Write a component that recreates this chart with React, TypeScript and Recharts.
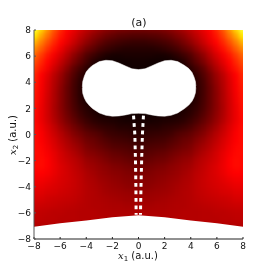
import { Area, ComposedChart, Line, Scatter, XAxis, YAxis } from 'recharts';

// grid positions of the heat map, right half only (the picture is mirrored about x1 = 0)
const x1Half = [0, 0.5, 1, 1.5, 2, 2.5, 3, 3.5, 4, 4.5, 5, 5.5, 6, 6.5, 7, 7.5, 8];
const x2Rows = [
  8, 7.5, 7, 6.5, 6, 5.5, 5, 4.5, 4, 3.5, 3, 2.5, 2, 1.5, 1, 0.5, 0, -0.5, -1, -1.5, -2, -2.5, -3, -3.5, -4, -4.5, -5,
  -5.5, -6, -6.5, -7, -7.5, -8,
];

// colormap position, one row per x2Rows entry
const heatRows = [
  [.155, .155, .16, .165, .175, .19, .21, .235, .265, .295, .33, .37, .42, .49, .58, .68, .8],
  [.105, .105, .11, .115, .13, .145, .17, .195, .23, .265, .305, .345, .395, .455, .53, .61, .71],
  [.065, .065, .07, .08, .09, .105, .13, .16, .195, .235, .28, .325, .37, .42, .48, .55, .63],
  [.04, .04, .04, .045, .055, .07, .09, .12, .15, .195, .24, .285, .335, .385, .435, .5, .565],
  [.025, .025, .025, .02, .02, .03, .05, .075, .105, .15, .195, .25, .3, .345, .395, .45, .51],
  [.015, .015, .01, .01, .01, .01, .02, .04, .08, .12, .165, .22, .27, .32, .37, .42, .475],
  [.01, .01, .01, .01, .01, .01, .01, .02, .05, .085, .125, .185, .24, .29, .345, .395, .445],
  [.01, .01, .01, .01, .01, .01, .01, .01, .03, .06, .105, .155, .21, .26, .315, .365, .42],
  [.01, .01, .01, .01, .01, .01, .01, .01, .02, .05, .09, .145, .2, .25, .305, .355, .41],
  [.01, .01, .01, .01, .01, .01, .01, .01, .02, .045, .085, .135, .19, .245, .3, .35, .4],
  [.01, .01, .01, .01, .01, .01, .01, .01, .02, .045, .085, .135, .185, .24, .295, .345, .395],
  [.01, .01, .01, .01, .01, .01, .01, .015, .025, .05, .09, .135, .185, .24, .29, .34, .39],
  [.01, .01, .01, .01, .01, .01, .015, .025, .04, .06, .095, .14, .185, .235, .29, .335, .385],
  [.01, .01, .01, .01, .015, .015, .02, .035, .05, .075, .11, .15, .195, .24, .29, .335, .38],
  [.02, .02, .02, .025, .03, .035, .04, .05, .07, .095, .13, .165, .205, .25, .295, .335, .375],
  [.035, .035, .04, .04, .05, .055, .065, .08, .095, .125, .155, .19, .225, .27, .31, .345, .38],
  [.05, .052, .06, .065, .07, .08, .1, .115, .13, .155, .18, .215, .25, .285, .32, .355, .38],
  [.07, .072, .08, .085, .09, .105, .12, .14, .15, .18, .205, .235, .265, .3, .33, .36, .38],
  [.09, .092, .1, .105, .11, .125, .14, .155, .17, .2, .225, .25, .28, .31, .34, .37, .38],
  [.11, .112, .12, .13, .135, .15, .165, .18, .19, .22, .245, .27, .295, .325, .35, .375, .38],
  [.13, .132, .14, .15, .155, .17, .185, .2, .21, .24, .26, .28, .3, .33, .36, .38, .375],
  [.15, .152, .16, .17, .175, .19, .2, .215, .225, .25, .27, .29, .31, .335, .36, .38, .375],
  [.17, .172, .175, .185, .19, .2, .21, .225, .24, .26, .275, .295, .31, .33, .35, .365, .36],
  [.18, .182, .185, .195, .2, .21, .22, .235, .245, .265, .28, .295, .305, .32, .335, .345, .345],
  [.19, .192, .195, .205, .21, .22, .23, .24, .25, .265, .28, .29, .3, .31, .32, .33, .33],
  [.205, .207, .21, .215, .22, .225, .235, .245, .25, .265, .275, .285, .29, .3, .305, .315, .315],
  [.22, .22, .22, .225, .23, .235, .24, .245, .25, .26, .27, .275, .28, .285, .29, .3, .3],
  [.23, .23, .23, .235, .235, .24, .245, .245, .25, .255, .26, .265, .27, .275, .28, .285, .285],
  [.24, .24, .24, .24, .24, .245, .245, .25, .25, .25, .255, .255, .26, .26, .265, .27, .27],
  [.245, .245, .245, .245, .245, .245, .25, .25, .25, .25, .255, .255, .255, .26, .26, .265, .265],
  [.25, .25, .25, .25, .25, .25, .25, .25, .25, .25, .25, .25, .25, .25, .25, .25, .25],
  [.25, .25, .25, .25, .25, .25, .25, .25, .25, .25, .25, .25, .25, .25, .25, .25, .25],
  [.25, .25, .25, .25, .25, .25, .25, .25, .25, .25, .25, .25, .25, .25, .25, .25, .25],
];

// white hole in the middle
const holeX = [-4.3, -4.27, -4.15, -4, -3.75, -3.5, -3, -2.5, -2, -1.5, -1, -0.5, 0, 0.5, 1, 1.5, 2, 2.5, 3, 3.5, 3.85, 4.1, 4.25, 4.36, 4.39];
const holeLow = [3.55, 3.15, 2.8, 2.5, 2.2, 1.97, 1.65, 1.47, 1.4, 1.42, 1.5, 1.6, 1.62, 1.6, 1.5, 1.42, 1.4, 1.47, 1.65, 1.97, 2.25, 2.55, 2.85, 3.2, 3.6];
const holeHigh = [3.65, 4.05, 4.45, 4.8, 5.1, 5.3, 5.58, 5.68, 5.65, 5.47, 5.25, 5.03, 4.97, 5.03, 5.25, 5.47, 5.65, 5.68, 5.58, 5.3, 5.05, 4.75, 4.4, 4.05, 3.7];

// white band along the bottom
const floorX = [-8, -6, -4, -2, 0, 2, 4, 6, 8];
const floorTop = [-7.06, -6.8, -6.58, -6.34, -6.19, -6.34, -6.58, -6.8, -7.06];

// the two dashed white lines
const dashX2 = [1.45, 0, -2, -4, -6.15];
const dashLeftX1 = [-0.38, -0.28, -0.23, -0.2, -0.18];
const dashRightX1 = [0.38, 0.3, 0.24, 0.19, 0.15];

const ticks = [-8, -6, -4, -2, 0, 2, 4, 6, 8];

const heatCells = x2Rows.flatMap((x2, r) =>
  x1Half.flatMap((x1, c) => {
    const value = heatRows[r][c];
    return x1 === 0 ? [{ x1, x2, value }] : [{ x1, x2, value }, { x1: -x1, x2, value }];
  })
);
const holeData = holeX.map((x1, i) => ({ x1, range: [holeLow[i], holeHigh[i]] }));
const floorData = floorX.map((x1, i) => ({ x1, range: [-8, floorTop[i]] }));
const dashLeft = dashX2.map((x2, i) => ({ x1: dashLeftX1[i], x2 }));
const dashRight = dashX2.map((x2, i) => ({ x1: dashRightX1[i], x2 }));

// matplotlib "hot"
const hot = (v: number) => {
  const clamp = (n: number) => Math.round(255 * Math.max(0, Math.min(1, n)));
  return `rgb(${clamp(0.04 + v / 0.376)},${clamp((v - 0.365) / 0.375)},${clamp((v - 0.746) / 0.254)})`;
};

// edge cells run past the frame so the blur does not fade at the border
const HeatCell = (props: any) => {
  const { x1, x2, value } = props.payload;
  const left = props.cx - 4 - (x1 === -8 ? 8 : 0);
  const top = props.cy - 4 - (x2 === 8 ? 8 : 0);
  const width = 8 + (Math.abs(x1) === 8 ? 8 : 0);
  const height = 8 + (Math.abs(x2) === 8 ? 8 : 0);
  return <rect x={left} y={top} width={width} height={height} fill={hot(value)} />;
};

const tickStyle = { fontSize: 9, fontFamily: 'DejaVu Sans', fill: '#111' };
const noLabel = () => '';
const minusLabel = (v: number) => String(v).replace('-', '\u2212');

export default function App() {
  return (
    <div style={{ position: 'absolute', left: 0, top: 0, width: 270, height: 270, background: '#fff', filter: 'blur(0.35px)' }}>
      <style>{`.recharts-scatter { filter: blur(2.2px); }`}</style>
      <ComposedChart width={270} height={270} margin={{ top: 30, right: 27, bottom: 0, left: 0 }}>
        <XAxis
          xAxisId={0}
          type="number"
          dataKey="x1"
          domain={[-8, 8]}
          ticks={ticks}
          allowDataOverflow
          height={31}
          tick={tickStyle}
          tickSize={-2}
          tickMargin={6}
          stroke="#222"
          tickFormatter={minusLabel}
        />
        <XAxis
          xAxisId="top"
          orientation="top"
          type="number"
          domain={[-8, 8]}
          ticks={ticks}
          allowDataOverflow
          height={0}
          tickSize={-2}
          stroke="#333"
          tickFormatter={noLabel}
        />
        <YAxis
          yAxisId={0}
          type="number"
          dataKey="x2"
          domain={[-8, 8]}
          ticks={ticks}
          allowDataOverflow
          width={34}
          tick={tickStyle}
          tickSize={-2}
          tickMargin={5}
          stroke="#555"
          tickFormatter={minusLabel}
        />
        <YAxis
          yAxisId="right"
          orientation="right"
          type="number"
          domain={[-8, 8]}
          ticks={ticks}
          allowDataOverflow
          width={0}
          tickSize={-2}
          stroke="#999"
          strokeWidth={1.5}
          tickFormatter={noLabel}
        />
        <Scatter data={heatCells} shape={HeatCell} isAnimationActive={false} zIndex={50} />
        <Area
          data={holeData}
          dataKey="range"
          type="linear"
          fill="#fff"
          fillOpacity={1}
          stroke="#fff"
          strokeWidth={0.5}
          isAnimationActive={false}
          dot={false}
          activeDot={false}
          zIndex={60}
        />
        <Area
          data={floorData}
          dataKey="range"
          type="linear"
          fill="#fff"
          fillOpacity={1}
          stroke="none"
          isAnimationActive={false}
          dot={false}
          activeDot={false}
          zIndex={60}
        />
        <Line
          data={dashLeft}
          dataKey="x2"
          stroke="#fff"
          strokeWidth={3}
          strokeDasharray="3.8 3.7"
          dot={false}
          activeDot={false}
          isAnimationActive={false}
          zIndex={70}
        />
        <Line
          data={dashRight}
          dataKey="x2"
          stroke="#fff"
          strokeWidth={3}
          strokeDasharray="3.8 3.7"
          dot={false}
          activeDot={false}
          isAnimationActive={false}
          zIndex={70}
        />
        <text x={139} y={26} textAnchor="middle" fontSize={11} fontFamily="DejaVu Sans" fill="#111">
          (a)
        </text>
        <text x={138} y={259} textAnchor="middle" fontSize={10} fontFamily="DejaVu Sans" fill="#111">
          <tspan fontFamily="DejaVu Serif" fontStyle="italic">x</tspan>
          <tspan fontSize={7} dy={2}>1</tspan>
          <tspan dy={-2}>{'  (a.u.)'}</tspan>
        </text>
        <text
          transform="translate(16 135) rotate(-90)"
          textAnchor="middle"
          fontSize={10}
          fontFamily="DejaVu Sans"
          fill="#111"
        >
          <tspan fontFamily="DejaVu Serif" fontStyle="italic">x</tspan>
          <tspan fontSize={7} dy={2}>2</tspan>
          <tspan dy={-2}>{'  (a.u.)'}</tspan>
        </text>
      </ComposedChart>
    </div>
  );
}
